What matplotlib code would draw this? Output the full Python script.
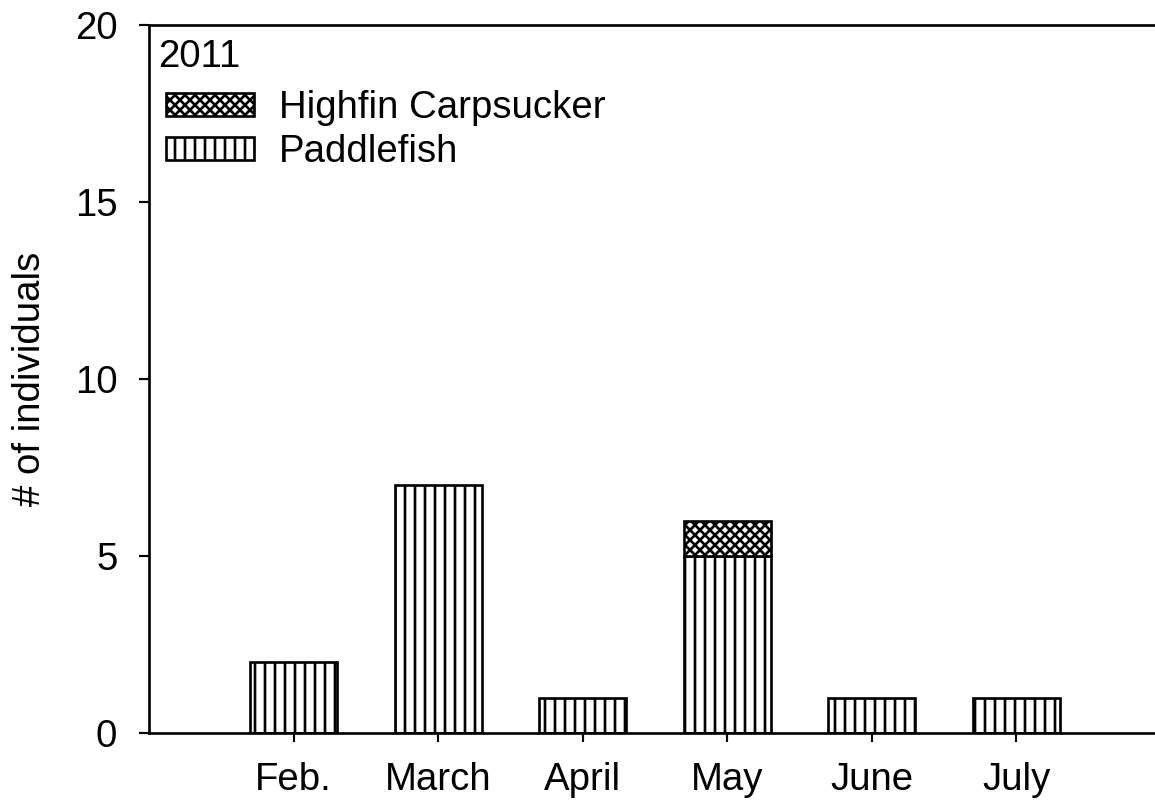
import numpy as np
import matplotlib
matplotlib.use("Agg")
import matplotlib.pyplot as plt

# data
months = ["Feb.", "March", "April", "May", "June", "July"]
paddlefish = [2, 7, 1, 5, 1, 1]
highfin = [0, 0, 0, 1, 0, 0]

plt.rcParams['font.family'] = ['Liberation Sans', 'DejaVu Sans']
plt.rcParams['hatch.linewidth'] = 1.6
plt.rcParams['hatch.color'] = 'black'

W, H = 1155, 809
fig = plt.figure(figsize=(W / 120, H / 120), dpi=120)
# axes runs past the right edge of the figure, like the original
L, R, T, B = 149, 1200, 25, 733
ax = fig.add_axes([L / W, 1 - B / H, (R - L) / W, (B - T) / H])

x = np.arange(len(months))
pf = np.array(paddlefish)
hf = np.array(highfin)
w = 0.6

m = pf > 0
ax.bar(x[m], pf[m], width=w, color='white', edgecolor='black', linewidth=1.6,
       hatch='||', label='Paddlefish', zorder=2)
m2 = hf > 0
ax.bar(x[m2], hf[m2], bottom=pf[m2], width=w, color='white', edgecolor='black',
       linewidth=1.6, hatch='xxxx', label='Highfin Carpsucker', zorder=2)

ax.set_xlim(-1.0, 6.27)
ax.set_ylim(0, 20)
ax.set_yticks([0, 5, 10, 15, 20])
ax.set_xticks(x)
ax.set_xticklabels(months)
fs = 23
ax.tick_params(axis='both', direction='out', labelsize=fs, width=1.3,
               colors='black')
ax.tick_params(axis='y', length=6, pad=13)
ax.tick_params(axis='x', length=5.5, pad=12)
ax.spines['right'].set_visible(False)
for s in ['left', 'bottom', 'top']:
    ax.spines[s].set_linewidth(1.6)
ax.set_ylabel('# of individuals', fontsize=fs, labelpad=16)

ax.text((158 - L) / (R - L), 1 - (57 - T) / (B - T), '2011', fontsize=fs,
        transform=ax.transAxes, ha='left', va='center')

h, l = ax.get_legend_handles_labels()
ax.legend(h[::-1], l[::-1], loc='upper left',
          bbox_to_anchor=((166 - L) / (R - L), 1 - (90 - T) / (B - T)),
          frameon=False, fontsize=fs,
          handlelength=2.3, handleheight=0.55, handletextpad=0.65,
          labelspacing=0.2, borderaxespad=0, borderpad=0)

fig.savefig('out.png', dpi=120)
